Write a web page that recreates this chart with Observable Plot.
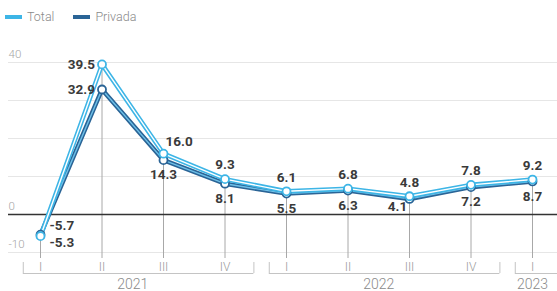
<!DOCTYPE html>
<html><head><meta charset="utf-8">
<script src="https://cdn.jsdelivr.net/npm/d3@7"></script>
<script src="https://cdn.jsdelivr.net/npm/@observablehq/plot@0.6"></script>
<style>
body{margin:0;background:#fff;font-family:Roboto,sans-serif}
#legend{height:30px;box-sizing:border-box;padding:9px 0 0 5px;display:flex;align-items:flex-start;font-size:12.5px;color:#8a8a8a;font-weight:300;line-height:16px}
.item{display:flex;align-items:center;margin-right:19px}
.sw{display:inline-block;width:17px;height:3.5px;margin-right:5px}
</style></head><body>
<div id="legend"></div><div id="chart"></div>
<script>
const quarters = ["I","II","III","IV","I","II","III","IV","I"];
const years = ["2021","2021","2021","2021","2022","2022","2022","2022","2023"];
const total = [-5.7,39.5,16.0,9.3,6.1,6.8,4.8,7.8,9.2];
const privada = [-5.3,32.9,14.3,8.1,5.5,6.3,4.1,7.2,8.7];
const seriesNames = ["Total","Privada"];
const seriesColors = ["#3db5e6","#2a6496"];
const innerColors = ["#ffffff","#6ec0e8"];
const gridTicks = [40,30,20,10,-10];
const labelTicks = [40,0,-10];

const values = [total, privada];
const rows = [];
seriesNames.forEach((s,k)=>values[k].forEach((v,i)=>rows.push({i,s,k,v})));
const qrows = quarters.map((q,i)=>({i,q,y:years[i],hi:Math.max(total[i],privada[i])}));
const groups = d3.groups(qrows,d=>d.y).map(([y,arr])=>({y,first:arr[0].i,last:arr[arr.length-1].i}));
const ends = groups.flatMap(g=>[g.first-0.28, g.last+0.47]);
const yMin = d3.min(gridTicks);
const peak = d3.maxIndex(total);

// legend
const leg = document.getElementById("legend");
seriesNames.forEach((s,k)=>{
  const it = document.createElement("div"); it.className="item";
  it.innerHTML = `<span class="sw" style="background:${seriesColors[k]}"></span><span>${s}</span>`;
  leg.appendChild(it);
});

const lblStyle = {text:d=>d.v.toFixed(1), fill:"#3a3a3a", fontSize:13.5, fontWeight:700};
function place(d){
  if (d.i===0) return d.k===0 ? "rightUp" : "rightDown";
  if (d.i===peak) return "left";
  if (d.k===0 && d.i===2) return "aboveRight";
  if (d.k===1 && d.i===6) return "belowLeft";
  return d.k===0 ? "above" : "below";
}
const placements = {
  rightUp:{textAnchor:"start",dx:9,dy:-10},
  rightDown:{textAnchor:"start",dx:9,dy:8},
  left:{textAnchor:"end",dx:-7,dy:0},
  aboveRight:{textAnchor:"start",dx:2,dy:-12},
  belowLeft:{textAnchor:"middle",dx:-12,dy:8},
  above:{textAnchor:"middle",dx:0,dy:-14},
  below:{textAnchor:"middle",dx:0,dy:15}
};

const marks = [
  Plot.ruleY(gridTicks,{stroke:"#e6e6e6",strokeWidth:1}),
  Plot.ruleX(qrows,{x:"i",y1:"hi",y2:()=>yMin,insetBottom:-6,stroke:"#a8a8a8",strokeWidth:1}),
  Plot.ruleY([0],{stroke:"#333",strokeWidth:1.6}),
  Plot.ruleY(groups,{y:()=>yMin,x1:d=>d.first-0.28,x2:d=>d.last+0.47,dy:21,stroke:"#c4c4c4",strokeWidth:1}),
  Plot.ruleX(ends,{x:d=>d,y1:()=>yMin,y2:()=>yMin,insetTop:10,insetBottom:-21,stroke:"#c4c4c4",strokeWidth:1}),
  Plot.text(qrows,{x:"i",y:()=>yMin,text:"q",dy:15,fill:"#9a9a9a",fontSize:12,fontWeight:300}),
  Plot.text(groups,{x:d=>(d.first+d.last)/2,y:()=>yMin,text:"y",dy:32,fill:"#8a8a8a",fontSize:14,fontWeight:300}),
  Plot.text(labelTicks,{y:d=>d,text:d=>String(d),frameAnchor:"left",textAnchor:"start",dy:-8,fill:"#a5a5a5",fontSize:11.5,fontWeight:300})
];
[1,0].forEach(k=>{
  const data = rows.filter(d=>d.k===k);
  marks.push(Plot.line(data,{x:"i",y:"v",stroke:seriesColors[k],strokeWidth:4.5}));
  marks.push(Plot.line(data,{x:"i",y:"v",stroke:innerColors[k],strokeWidth:1.4}));
});
[1,0].forEach(k=>{
  marks.push(Plot.dot(rows.filter(d=>d.k===k),{x:"i",y:"v",r:4,fill:"white",stroke:seriesColors[k],strokeWidth:1.8}));
});
Object.entries(placements).forEach(([key,opt])=>{
  marks.push(Plot.text(rows.filter(d=>place(d)===key),{x:"i",y:"v",...lblStyle,...opt}));
});

const chart = Plot.plot({
  width:557,height:261,
  marginTop:32,marginBottom:39,marginLeft:8,marginRight:0,
  x:{type:"linear",domain:[(8-40)/61.5,(557-40)/61.5],axis:null},
  y:{domain:[-10,40],axis:null},
  style:{fontFamily:"Roboto, sans-serif",background:"white",overflow:"visible"},
  marks
});
document.getElementById("chart").appendChild(chart);
</script>
</body></html>
